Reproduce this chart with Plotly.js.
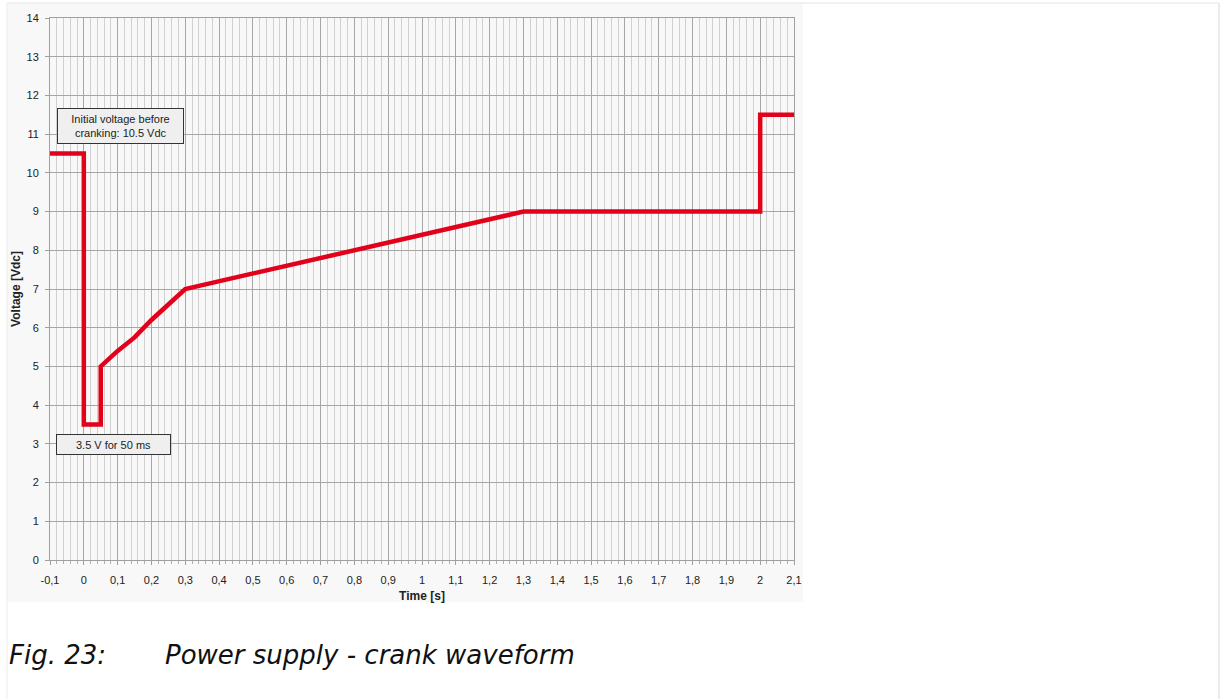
<!DOCTYPE html>
<html>
<head>
<meta charset="utf-8">
<script src="https://cdn.plot.ly/plotly-3.0.1.min.js"></script>
<style>
  html, body { margin: 0; padding: 0; background: #ffffff; }
  #chart { width: 1224px; height: 699px; }
</style>
</head>
<body>
<div id="chart"></div>
<script>
// ---- data ----
var timeS   = [-0.1, 0, 0, 0.05, 0.05, 0.1, 0.15, 0.2, 0.25, 0.3, 0.35, 0.4, 0.45, 0.5, 0.55, 0.6, 0.65, 0.7, 0.75, 0.8, 0.85, 0.9, 0.95, 1.0, 1.05, 1.1, 1.15, 1.2, 1.25, 1.3, 2.0, 2.0, 2.1];
var voltage = [10.5, 10.5, 3.5, 3.5, 5.0, 5.4, 5.75, 6.2, 6.6, 7.0, 7.1, 7.2, 7.3, 7.4, 7.5, 7.6, 7.7, 7.8, 7.9, 8.0, 8.1, 8.2, 8.3, 8.4, 8.5, 8.6, 8.7, 8.8, 8.9, 9.0, 9.0, 11.5, 11.5];

var xTickVals = [-0.1, 0, 0.1, 0.2, 0.3, 0.4, 0.5, 0.6, 0.7, 0.8, 0.9, 1, 1.1, 1.2, 1.3, 1.4, 1.5, 1.6, 1.7, 1.8, 1.9, 2, 2.1];
var xTickText = ["-0,1", "0", "0,1", "0,2", "0,3", "0,4", "0,5", "0,6", "0,7", "0,8", "0,9", "1", "1,1", "1,2", "1,3", "1,4", "1,5", "1,6", "1,7", "1,8", "1,9", "2", "2,1"];
var yTickVals = [0, 1, 2, 3, 4, 5, 6, 7, 8, 9, 10, 11, 12, 13, 14];

var noteInitial = "Initial voltage before<br>cranking: 10.5 Vdc";
var noteDip = "3.5 V for 50 ms";
var captionLabel = "Fig. 23:";
var captionText = "Power supply - crank waveform";

// ---- layout geometry (pixels) ----
var W = 1224, H = 699;
var L = 50, R = 794, T = 18, B = 560;
function px(x) { return (x - L) / (R - L); }
function py(y) { return (B - y) / (B - T); }

var fontMain = "Liberation Sans, Arial, sans-serif";

var trace = {
  x: timeS,
  y: voltage,
  type: "scatter",
  mode: "lines",
  line: { color: "rgb(226,0,26)", width: 4.5 },
  hoverinfo: "x+y",
  showlegend: false
};

var layout = {
  width: W,
  height: H,
  margin: { l: L, r: W - R, t: T, b: H - B, pad: 0 },
  paper_bgcolor: "#ffffff",
  plot_bgcolor: "#ffffff",
  font: { family: fontMain, size: 11, color: "#222" },
  showlegend: false,
  xaxis: {
    range: [-0.1, 2.1],
    tickmode: "array",
    tickvals: xTickVals,
    ticktext: xTickText,
    showgrid: true,
    gridcolor: "#a6a6a6",
    gridwidth: 1,
    zeroline: false,
    showline: true,
    linecolor: "#a0a0a0",
    linewidth: 1,
    mirror: true,
    ticks: "outside",
    ticklen: 4,
    tickcolor: "#a0a0a0",
    ticklabelstandoff: 6,
    tickfont: { family: fontMain, size: 11, color: "#222" },
    minor: {
      tick0: 0,
      dtick: 0.02,
      showgrid: true,
      gridcolor: "#d0d0d0",
      gridwidth: 1,
      ticks: "outside",
      ticklen: 3,
      tickcolor: "#b0b0b0"
    },
    title: { text: "<b>Time [s]</b>", font: { family: fontMain, size: 12, color: "#222" }, standoff: 6 },
    fixedrange: true
  },
  yaxis: {
    range: [0, 14],
    tickmode: "array",
    tickvals: yTickVals,
    showgrid: true,
    gridcolor: "#a6a6a6",
    gridwidth: 1,
    zeroline: false,
    showline: true,
    linecolor: "#a0a0a0",
    linewidth: 1,
    mirror: true,
    ticks: "outside",
    ticklen: 4,
    tickcolor: "#a0a0a0",
    ticklabelstandoff: 4,
    tickfont: { family: fontMain, size: 11, color: "#222" },
    title: { text: "<b>Voltage [Vdc]</b>", font: { family: fontMain, size: 12, color: "#222" }, standoff: 3 },
    fixedrange: true
  },
  shapes: [
    // light grey image background behind the chart
    { type: "rect", xref: "paper", yref: "paper", layer: "below",
      x0: px(7), x1: px(803), y0: py(3), y1: py(602),
      fillcolor: "#f8f8f8", line: { width: 0 } },
    // page frame
    { type: "line", xref: "paper", yref: "paper",
      x0: px(7), x1: px(1219), y0: py(3), y1: py(3),
      line: { color: "#e4e4e4", width: 1 } },
    { type: "line", xref: "paper", yref: "paper",
      x0: px(1219), x1: px(1219), y0: py(3), y1: py(699),
      line: { color: "#e4e4e4", width: 1.5 } },
    { type: "line", xref: "paper", yref: "paper",
      x0: px(7), x1: px(7), y0: py(3), y1: py(699),
      line: { color: "#ececec", width: 1 } }
  ],
  annotations: [
    { x: 0.107, y: 11.21, xref: "x", yref: "y", text: noteInitial, showarrow: false,
      font: { family: fontMain, size: 11, color: "#222" },
      bgcolor: "#efefef", bordercolor: "#333", borderwidth: 1, borderpad: 3,
      width: 119, height: 28, align: "center" },
    { x: 0.089, y: 2.98, xref: "x", yref: "y", text: noteDip, showarrow: false,
      font: { family: fontMain, size: 11, color: "#222" },
      bgcolor: "#efefef", bordercolor: "#333", borderwidth: 1, borderpad: 2,
      width: 109, height: 15, align: "center" },
    { x: px(7), y: py(655), xref: "paper", yref: "paper", xanchor: "left", yanchor: "middle",
      text: captionLabel, showarrow: false,
      font: { family: "DejaVu Sans", size: 26, color: "#111", style: "italic" } },
    { x: px(163), y: py(655), xref: "paper", yref: "paper", xanchor: "left", yanchor: "middle",
      text: captionText, showarrow: false,
      font: { family: "DejaVu Sans", size: 26, color: "#111", style: "italic" } }
  ]
};

Plotly.newPlot("chart", [trace], layout, { displayModeBar: false, staticPlot: true });
</script>
</body>
</html>
